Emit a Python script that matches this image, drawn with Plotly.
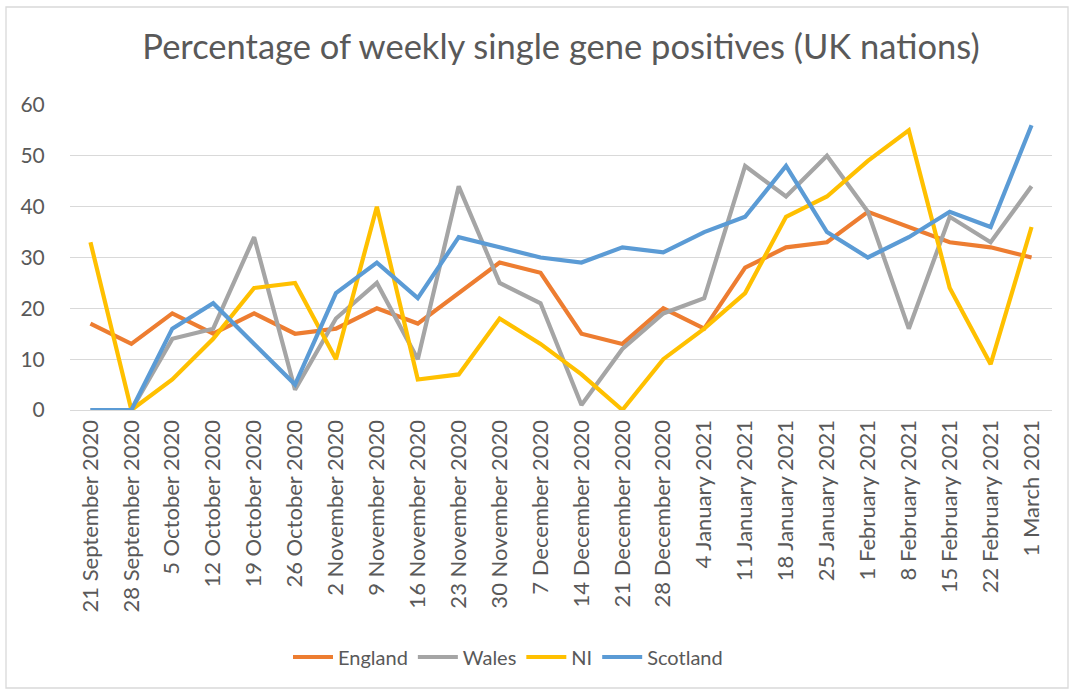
import plotly.graph_objects as go

categories = [
    "21 September 2020", "28 September 2020", "5 October 2020", "12 October 2020",
    "19 October 2020", "26 October 2020", "2 November 2020", "9 November 2020",
    "16 November 2020", "23 November 2020", "30 November 2020", "7 December 2020",
    "14 December 2020", "21 December 2020", "28 December 2020", "4 January 2021",
    "11 January 2021", "18 January 2021", "25 January 2021", "1 February 2021",
    "8 February 2021", "15 February 2021", "22 February 2021", "1 March 2021",
]
england = [17, 13, 19, 15, 19, 15, 16, 20, 17, 23, 29, 27, 15, 13, 20, 16, 28, 32, 33, 39, 36, 33, 32, 30]
wales = [0, 0, 14, 16, 34, 4, 18, 25, 10, 44, 25, 21, 1, 12, 19, 22, 48, 42, 50, 39, 16, 38, 33, 44]
ni = [33, 0, 6, 14, 24, 25, 10, 40, 6, 7, 18, 13, 7, 0, 10, 16, 23, 38, 42, 49, 55, 24, 9, 36]
scotland = [0, 0, 16, 21, 13, 5, 23, 29, 22, 34, 32, 30, 29, 32, 31, 35, 38, 48, 35, 30, 34, 39, 36, 56]
y_ticks = [0, 10, 20, 30, 40, 50, 60]

series = [
    ("England", england, "#ED7D31"),
    ("Wales", wales, "#A5A5A5"),
    ("NI", ni, "#FFC000"),
    ("Scotland", scotland, "#5B9BD5"),
]

FONT = "Lato"
GREY = "#595959"

fig = go.Figure()
for name, vals, color in series:
    fig.add_trace(go.Scatter(
        x=categories, y=vals, name=name, mode="lines",
        line=dict(color=color, width=4.2, shape="linear"),
    ))

fig.update_layout(
    width=1073, height=693,
    paper_bgcolor="white", plot_bgcolor="white",
    margin=dict(l=70, r=21, t=105, b=283),
    title=dict(
        text="Percentage of weekly single gene positives (UK nations)",
        x=0.5, xref="paper", xanchor="center",
        y=1 - 47 / 693, yanchor="middle",
        font=dict(family=FONT, size=34.5, color=GREY),
    ),
    font=dict(family=FONT, color=GREY),
    showlegend=True,
    legend=dict(
        orientation="h", x=(508 - 70) / 982, xanchor="center",
        y=-(657 - 410) / 305, yanchor="middle",
        font=dict(family=FONT, size=20, color=GREY),
        itemwidth=40, traceorder="normal",
    ),
    shapes=[dict(
        type="rect", xref="paper", yref="paper",
        x0=-(70 - 6) / 982, x1=(1068 - 70) / 982,
        y0=-(688 - 410) / 305, y1=1 + (105 - 7) / 305,
        line=dict(color="#D9D9D9", width=1.3), fillcolor="rgba(0,0,0,0)",
        layer="below",
    )],
)

fig.update_xaxes(
    type="category", categoryorder="array", categoryarray=categories,
    range=[-0.5, len(categories) - 0.5],
    tickangle=-90, tickfont=dict(family=FONT, size=22, color=GREY),
    showgrid=False, showline=True, linecolor="#D9D9D9", linewidth=1.3,
    ticks="", zeroline=False,
)
fig.update_yaxes(
    range=[0, 60], tickvals=y_ticks,
    tickfont=dict(family=FONT, size=21, color=GREY),
    showgrid=True, gridcolor="#D9D9D9", gridwidth=1.3,
    zeroline=False, showline=False, ticks="outside", ticklen=20, tickcolor="white",
)

fig.write_html(
    "out.html",
    config={"displayModeBar": False},
    post_script="document.body.style.margin='0';document.body.style.overflow='hidden';",
)
